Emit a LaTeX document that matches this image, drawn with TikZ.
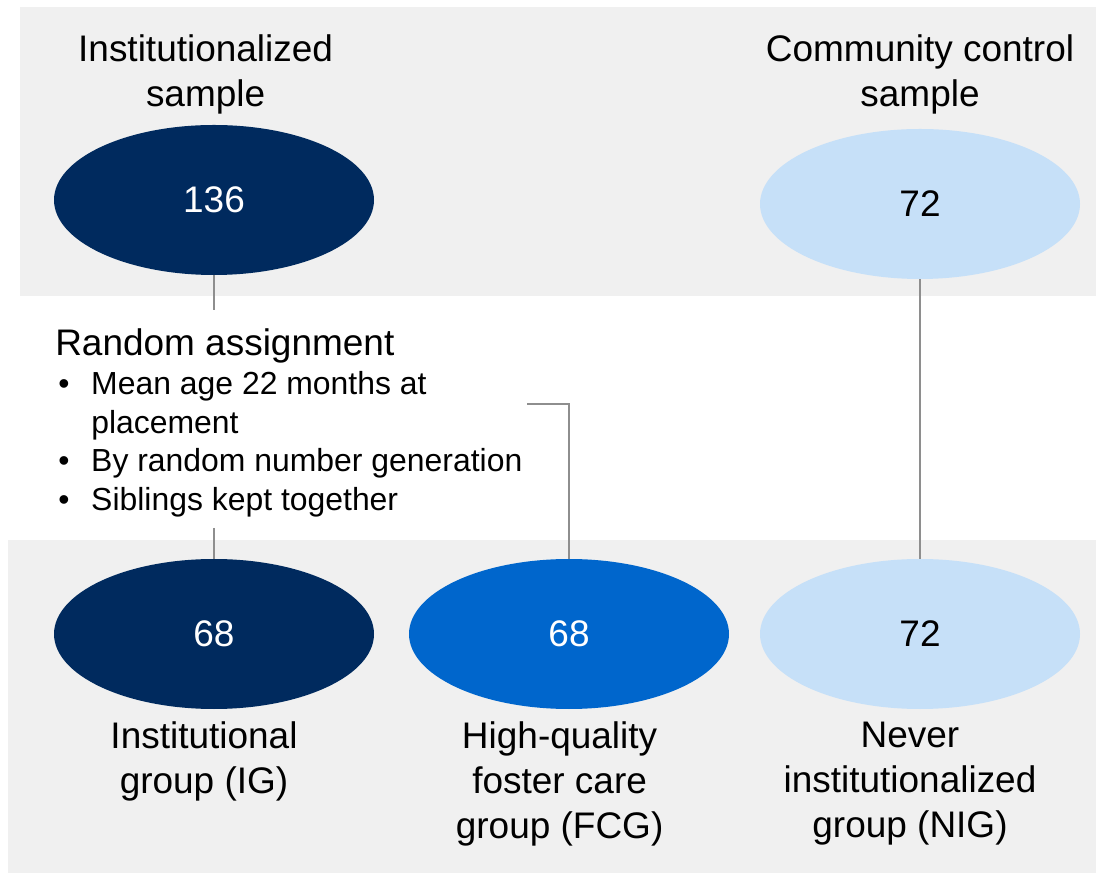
\documentclass[tikz,border=0pt]{standalone}
\usepackage{fontspec}
\setmainfont{Liberation Sans}
\usetikzlibrary{shapes.geometric}

\definecolor{bandgray}{HTML}{F0F0F0}
\definecolor{navy}{HTML}{002A5E}
\definecolor{midblue}{HTML}{0066CC}
\definecolor{paleblue}{HTML}{C6E0F8}
\definecolor{linkgray}{HTML}{8E8E8E}

\newcommand{\bigfont}{\fontsize{26.3}{32}\selectfont}
\newcommand{\listfont}{\fontsize{22.7}{27.4}\selectfont}
\newcommand{\bulletline}{\hangindent=0.9cm\hangafter=1\noindent\makebox[0.9cm][l]{\hspace{0.075cm}\textbullet}}

\begin{document}
\begin{tikzpicture}[
    group/.style={ellipse,minimum width=8cm,minimum height=3.75cm,inner sep=0pt,font=\bigfont},
    label/.style={align=flush center,font=\bigfont},
    link/.style={linkgray,line width=1.3pt}]
    \useasboundingbox (0,0) rectangle (27.4,21.85);
    % grey bands behind the two rows
    \fill[bandgray] (0.5,14.45) rectangle (27.4,21.675);
    \fill[bandgray] (0.2,0.025) rectangle (27.4,8.35);

    % samples
    \node[group,fill=navy,text=white] (inst) at (5.35,16.85) {136};
    \node[group,fill=paleblue] (ctrl) at (23,16.75) {72};
    \node[label] (instlab) at (5.14,20.0) {Institutionalized\\sample};
    \node[label] (ctrllab) at (23,20.0) {Community control\\sample};

    % groups
    \node[group,fill=navy,text=white] (ig) at (5.35,6) {68};
    \node[group,fill=midblue,text=white] (fcg) at (14.225,6) {68};
    \node[group,fill=paleblue] (nig) at (23,6) {72};
    \node[label] (iglab) at (5.1,2.825) {Institutional\\group (IG)};
    \node[label] (fcglab) at (13.99,2.26) {High-quality\\foster care\\group (FCG)};
    \node[label] (niglab) at (22.75,2.26) {Never\\institutionalized\\group (NIG)};

    % assignment notes
    \node[anchor=base west,text width=12.3cm,align=flush left,inner sep=0pt] (assign) at (1.375,12.95)
      {{\bigfont Random assignment\par}
       {\listfont
        \bulletline Mean age 22 months at placement\par
        \bulletline By random number generation\par
        \bulletline Siblings kept together\par}};

    \coordinate (up) at (5.35,14.1);
    \coordinate (down) at (5.35,8.65);
    \coordinate (hook) at (13.175,11.75);

    \draw[link] (inst.south) -- (up);
    \draw[link] (down) -- (ig.north);
    \draw[link] (hook) -| (fcg.north);
    \draw[link] (ctrl.south) -- (nig.north);
\end{tikzpicture}
\end{document}
